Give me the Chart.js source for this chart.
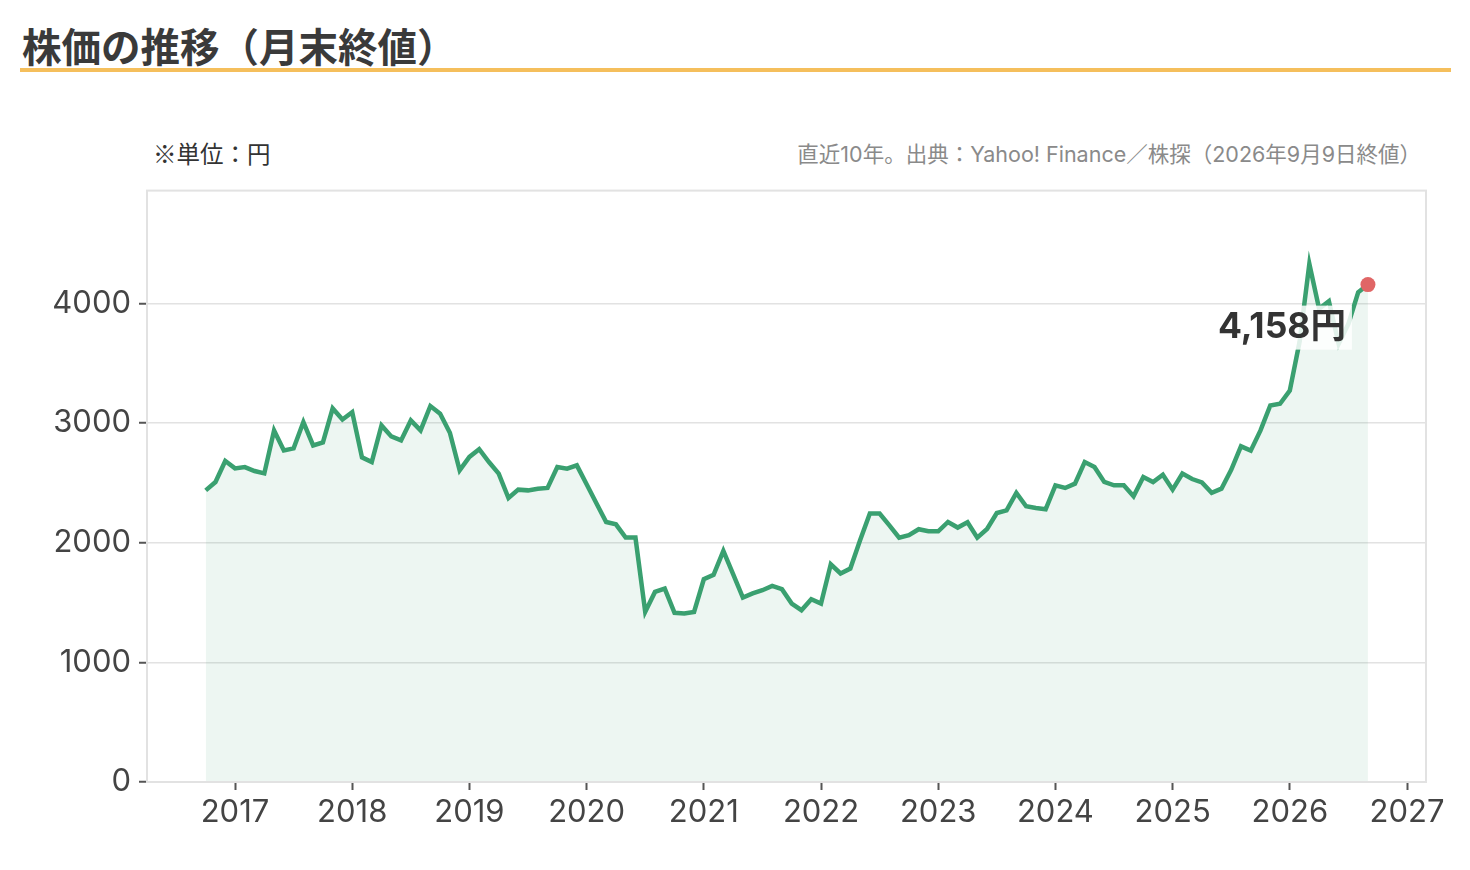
<!DOCTYPE html>
<html lang="ja">
<head>
<meta charset="utf-8">
<title>株価の推移（月末終値）</title>
<script src="https://cdn.jsdelivr.net/npm/chart.js@4.4.1/dist/chart.umd.min.js"></script>
<style>
  html, body { margin: 0; padding: 0; background: #fff; }
  body { width: 1470px; height: 870px; position: relative; overflow: hidden;
         font-family: Inter, 'Noto Sans CJK JP', 'Noto Sans', sans-serif; }
  #title { position: absolute; left: 22px; top: 23px; font-size: 39.5px; font-weight: 700;
           font-family: 'Noto Sans CJK JP', sans-serif;
           color: #3a3a3a; line-height: 44px; }
  #rule { position: absolute; left: 20px; top: 68px; width: 1431px; height: 4px; background: #f5bf5c; }
  #unit { position: absolute; left: 153px; top: 139px; font-size: 23.5px; color: #333; line-height: 28px;
          font-family: 'Noto Sans CJK JP', sans-serif; }
  #source { position: absolute; right: 49px; top: 142px; font-size: 21.5px; color: #8a8a8a; line-height: 24px; }
  #wrap { position: absolute; left: 0; top: 164px; width: 1470px; height: 706px; }
</style>
</head>
<body>
<div id="title">株価の推移（月末終値）</div>
<div id="rule"></div>
<div id="unit">※単位：円</div>
<div id="source">直近10年。出典：Yahoo! Finance／株探（2026年9月9日終値）</div>
<div id="wrap"><canvas id="chart"></canvas></div>

<script>
// first month of the series (Oct 2016), one close per month
var startYear = 2016;
var startMonth = 10;

// month-end closes, yen
var closes = [
    2438, 2508, 2683, 2622, 2633, 2600, 2580, 2939, 2772, 2789, 3009, 2814,
    2839, 3123, 3031, 3092, 2714, 2675, 2981, 2889, 2856, 3023, 2939, 3143,
    3079, 2920, 2605, 2718, 2782, 2675, 2578, 2374, 2444, 2438, 2452, 2458,
    2633, 2619, 2647, 2489, 2330, 2174, 2154, 2043, 2043, 1422, 1589, 1617,
    1414, 1409, 1422, 1695, 1732, 1932, 1737, 1542, 1576, 1603, 1639, 1612,
    1492, 1436, 1528, 1492, 1820, 1743, 1784, 2021, 2244, 2244, 2146, 2043,
    2063, 2113, 2096, 2096, 2174, 2127, 2171, 2043, 2115, 2249, 2271, 2416,
    2305, 2291, 2280, 2480, 2458, 2494, 2675, 2633, 2508, 2480, 2480, 2388,
    2550, 2508, 2569, 2444, 2578, 2533, 2504, 2418, 2452, 2610, 2806, 2770,
    2939, 3148, 3162, 3273, 3680, 4331, 3956, 4019, 3663, 3830, 4094, 4158
];

var yearTicks = [2017, 2018, 2019, 2020, 2021, 2022, 2023, 2024, 2025, 2026, 2027];
var priceTicks = [0, 1000, 2000, 3000, 4000];

var lineColor = '#3aa070';
var fillColor = 'rgba(58, 160, 112, 0.09)';
var lastColor = '#e06666';
var gridColor = '#e2e2e2';
var tickColor = '#555';
var textColor = '#444';
var fontFamily = "Inter, 'Noto Sans CJK JP', 'Noto Sans', sans-serif";

var points = closes.map(function(v, i) {
    var m = startMonth - 1 + i;
    return { x: startYear + Math.floor(m / 12) + (m % 12) / 12, y: v };
});
var lastIndex = closes.length - 1;

var frame = {
    id: 'frame',
    afterDraw: function(chart) {
        var a = chart.chartArea, ctx = chart.ctx;
        ctx.save();
        ctx.strokeStyle = gridColor;
        ctx.lineWidth = 2;
        ctx.strokeRect(a.left, a.top, a.right - a.left, a.bottom - a.top);
        ctx.restore();
    }
};

var lastLabel = {
    id: 'lastLabel',
    afterDatasetsDraw: function(chart) {
        var pt = chart.getDatasetMeta(0).data[lastIndex];
        var ctx = chart.ctx;
        var text = closes[lastIndex].toLocaleString('ja-JP') + '円';
        ctx.save();
        ctx.font = 'bold 35.5px ' + fontFamily;
        var w = ctx.measureText(text).width;
        var right = pt.x - 22, cy = pt.y + 43;
        ctx.fillStyle = 'rgba(255,255,255,0.85)';
        ctx.fillRect(right - w - 6, cy - 22, w + 12, 44);
        ctx.fillStyle = '#333';
        ctx.textAlign = 'right';
        ctx.textBaseline = 'middle';
        ctx.fillText(text, right, cy);
        ctx.restore();
    }
};

var chart = new Chart(document.getElementById('chart').getContext('2d'), {
    type: 'line',
    data: {
        datasets: [
            {
                data: points,
                borderColor: lineColor,
                borderWidth: 4.5,
                backgroundColor: fillColor,
                fill: 'origin',
                tension: 0,
                pointRadius: closes.map(function(v, i) { return i === lastIndex ? 7.5 : 0; }),
                pointBackgroundColor: lastColor,
                pointBorderWidth: 0,
                pointHoverRadius: 0
            }
        ]
    },
    options: {
        responsive: true,
        maintainAspectRatio: false,
        animation: false,
        layout: { padding: { top: 20, right: 44, left: 0, bottom: 0 } },
        scales: {
            x: {
                type: 'linear',
                min: 2016.249,
                max: 2027.162,
                afterBuildTicks: function(scale) {
                    scale.ticks = yearTicks.map(function(v) { return { value: v }; });
                },
                afterFit: function(scale) { scale.height = 88; },
                grid: { drawOnChartArea: false, drawTicks: true, tickLength: 8, tickColor: tickColor, tickWidth: 2 },
                border: { color: gridColor, width: 2 },
                ticks: {
                    padding: 4,
                    color: textColor,
                    font: { family: fontFamily, size: 31 },
                    maxRotation: 0,
                    autoSkip: false,
                    callback: function(v) { return String(v); }
                }
            },
            y: {
                min: 0,
                max: 4944,
                afterBuildTicks: function(scale) {
                    scale.ticks = priceTicks.map(function(v) { return { value: v }; });
                },
                afterFit: function(scale) { scale.width = 147; },
                grid: { color: gridColor, lineWidth: 1.5, tickLength: 8, tickColor: tickColor, tickWidth: 2 },
                border: { color: gridColor, width: 2 },
                ticks: {
                    padding: 8,
                    color: textColor,
                    font: { family: fontFamily, size: 31 },
                    callback: function(v) { return String(v); }
                }
            }
        },
        plugins: {
            legend: { display: false },
            tooltip: { enabled: false }
        }
    },
    plugins: [frame, lastLabel]
});
</script>
</body>
</html>
